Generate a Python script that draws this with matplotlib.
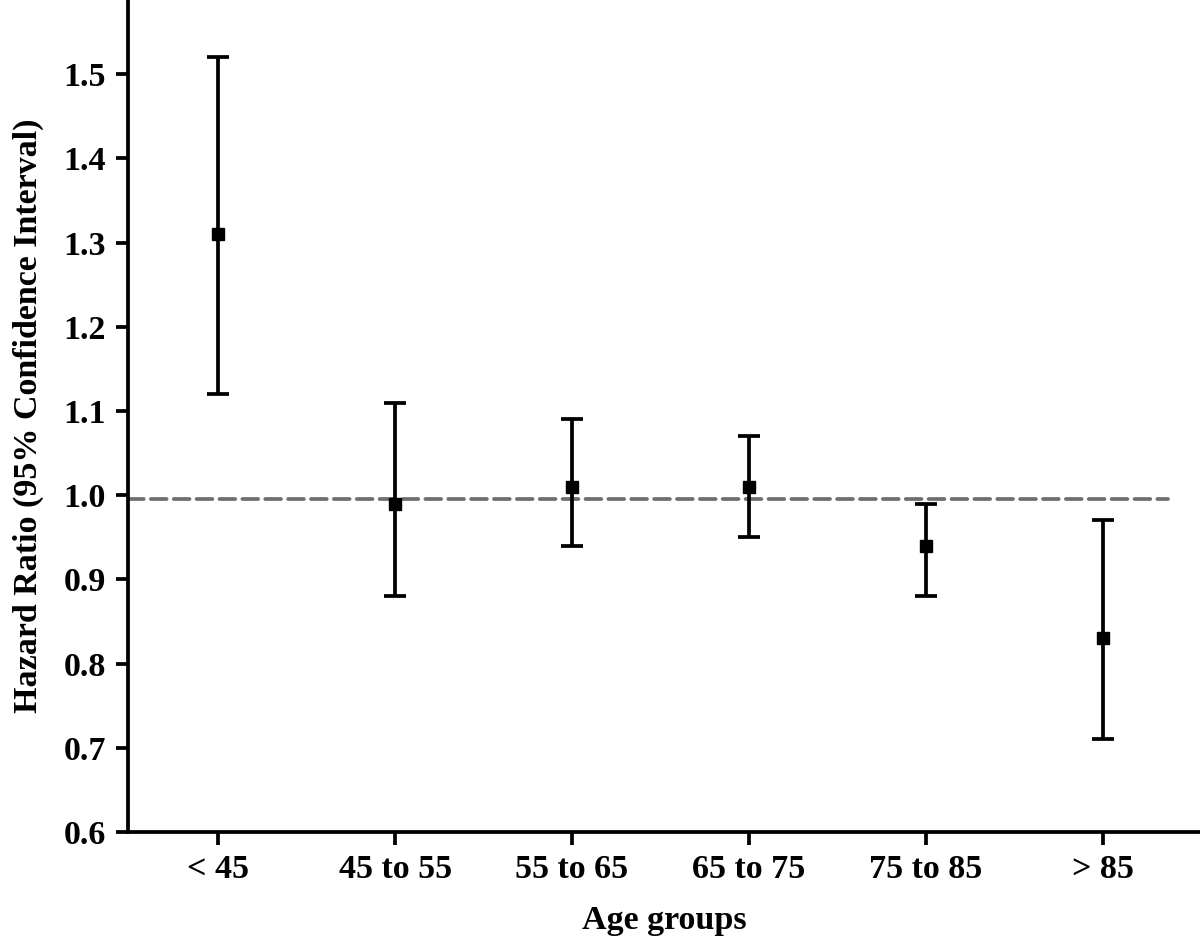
import numpy as np
import matplotlib
matplotlib.use('Agg')
import matplotlib.pyplot as plt

plt.rcParams['font.family'] = 'Liberation Serif'
plt.rcParams['font.weight'] = 'bold'

groups = ['< 45', '45 to 55', '55 to 65', '65 to 75', '75 to 85', '> 85']
hr = [1.31, 0.99, 1.01, 1.01, 0.94, 0.83]
ci_low = [1.12, 0.88, 0.94, 0.95, 0.88, 0.71]
ci_high = [1.52, 1.11, 1.09, 1.07, 0.99, 0.97]

x = np.arange(len(groups))
hr = np.array(hr)
yerr = [hr - np.array(ci_low), np.array(ci_high) - hr]

fig = plt.figure(figsize=(12, 9.47), dpi=100)
ax = fig.add_axes([0.1067, 0.1214, 0.8933, 0.8786])

ax.plot([-0.51, 5.37], [0.996, 0.996], linestyle=(0, (4.2, 1.9)), color='#6e6e6e',
        lw=2.7, dash_capstyle='round', zorder=1)
ax.errorbar(x, hr, yerr=yerr, fmt='s', color='black', ms=9, elinewidth=2.7,
            capsize=8, capthick=2.7, zorder=3)

ax.set_xlim(-0.51, 5.55)
ax.set_ylim(0.6, 1.588)
ax.set_yticks(np.arange(0.6, 1.51, 0.1))
ax.set_yticklabels(['%.1f' % v for v in np.arange(0.6, 1.51, 0.1)])
ax.set_xticks(x)
ax.set_xticklabels(groups)

for s in ['top', 'right']:
    ax.spines[s].set_visible(False)
for s in ['left', 'bottom']:
    ax.spines[s].set_linewidth(2.7)
ax.tick_params(width=2.7, length=9, labelsize=24.5, pad=7)

ax.set_xlabel('Age groups', fontsize=24.5, fontweight='bold', labelpad=14)
ax.set_ylabel('Hazard Ratio (95% Confidence Interval)', fontsize=24.5, fontweight='bold', labelpad=14)

fig.savefig('out.png', dpi=100)
